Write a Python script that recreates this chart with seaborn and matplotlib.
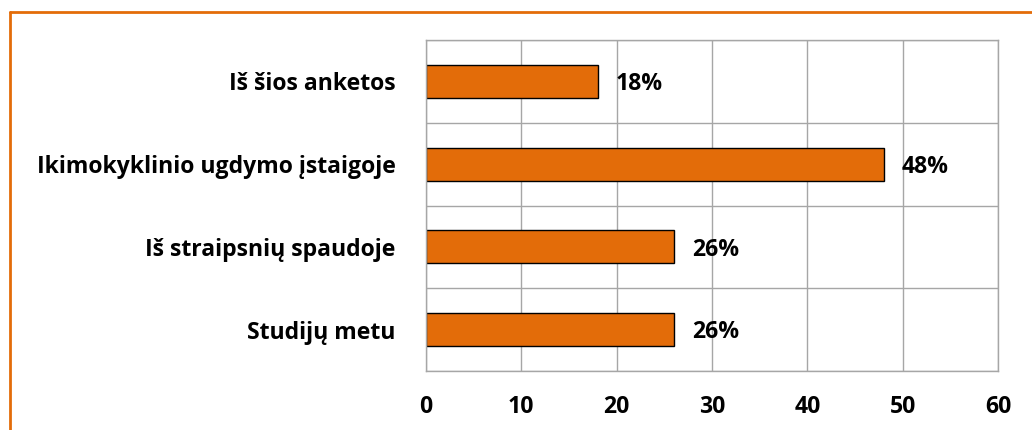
import matplotlib
matplotlib.use("Agg")
import matplotlib.pyplot as plt
from matplotlib.lines import Line2D
import seaborn as sns
import pandas as pd
import numpy as np

categories = ["Iš šios anketos", "Ikimokyklinio ugdymo įstaigoje",
              "Iš straipsnių spaudoje", "Studijų metu"]
values = [18, 48, 26, 26]
value_labels = ["18%", "48%", "26%", "26%"]
x_ticks = [0, 10, 20, 30, 40, 50, 60]

sns.set_theme(style="white")
plt.rcParams["font.family"] = ["Open Sans", "DejaVu Sans"]

orange = "#E36C09"
grid_gray = "#A6A6A6"
label_size = 16.6
label_weight = "bold"

fig = plt.figure(figsize=(10.32, 4.30), dpi=100)
ax = fig.add_axes([426 / 1032, 1 - 371 / 430, 572 / 1032, 331 / 430])

df = pd.DataFrame({"source": categories, "share": values})
sns.barplot(data=df, y="source", x="share", orient="h", color=orange,
            saturation=1, width=0.4, edgecolor="black", linewidth=1.0, ax=ax)

ax.set_xlim(0, 60)
ax.set_ylim(len(categories) - 0.5, -0.5)
ax.set_xticks(x_ticks)
ax.set_xticklabels([str(t) for t in x_ticks])
ax.set_xlabel("")
ax.set_ylabel("")

# category boundary grid lines and ticks
ax.set_yticks(np.arange(len(categories) + 1) - 0.5, minor=True)
ax.grid(True, axis="x", which="major", color=grid_gray, linewidth=1.0)
ax.grid(True, axis="y", which="minor", color=grid_gray, linewidth=1.0)
ax.grid(False, axis="y", which="major")
ax.set_axisbelow(True)

ax.tick_params(axis="y", which="major", length=0, pad=22)
ax.tick_params(axis="y", which="minor", length=8, color=grid_gray, width=1, direction="out")
ax.tick_params(axis="x", which="major", length=6, color=grid_gray, width=1,
               direction="out", pad=11)
for lbl in ax.get_yticklabels() + ax.get_xticklabels():
    lbl.set_fontsize(label_size)
    lbl.set_fontweight(label_weight)
    lbl.set_color("black")

for side in ["left", "right", "top", "bottom"]:
    ax.spines[side].set_visible(True)
    ax.spines[side].set_color(grid_gray)
    ax.spines[side].set_linewidth(1.0)

for i, (v, txt) in enumerate(zip(values, value_labels)):
    ax.annotate(txt, xy=(v, i), xytext=(13, -2), textcoords="offset points",
                ha="left", va="center", fontsize=label_size,
                fontweight=label_weight, color="black")

# orange outer frame
fx = 10 / 1032
fy = 1 - 12 / 430
fig.add_artist(Line2D([fx, fx], [0, fy], transform=fig.transFigure,
                      color=orange, linewidth=2))
fig.add_artist(Line2D([fx, 1], [fy, fy], transform=fig.transFigure,
                      color=orange, linewidth=2))

fig.savefig("out.png", dpi=100, facecolor="white")
